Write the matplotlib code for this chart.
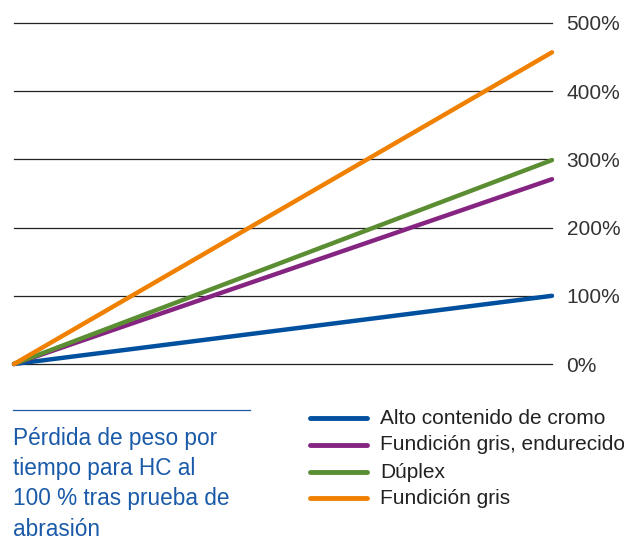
import matplotlib
matplotlib.use("Agg")
import matplotlib.pyplot as plt
from matplotlib.lines import Line2D

plt.rcParams['font.family'] = ['Liberation Sans', 'DejaVu Sans']

x_vals = [0, 1]
series_names = ["Alto contenido de cromo", "Fundición gris, endurecido", "Dúplex", "Fundición gris"]
series_values = [
    [0, 100],
    [0, 271],
    [0, 299],
    [0, 457],
]
series_colors = ["#0050a0", "#862481", "#5b8e32", "#f08000"]
y_ticks = [0, 100, 200, 300, 400, 500]
y_tick_labels = ["0%", "100%", "200%", "300%", "400%", "500%"]
note_lines = ["Pérdida de peso por", "tiempo para HC al", "100 % tras prueba de", "abrasión"]

W, H = 624, 541
fig = plt.figure(figsize=(W / 100, H / 100), dpi=100)
ax = fig.add_axes([14 / W, 1 - 364 / H, (552 - 14) / W, (364 - 23) / H])

for yv in y_ticks:
    ax.axhline(yv, color="#222222", lw=0.9, zorder=1, clip_on=False)

for vals, col in zip(series_values, series_colors):
    ax.plot(x_vals, vals, color=col, lw=3.2, solid_capstyle="round", zorder=3, clip_on=False)

ax.set_xlim(0, 1)
ax.set_ylim(0, 500)
ax.set_xticks([])
ax.yaxis.tick_right()
ax.set_yticks(y_ticks)
ax.set_yticklabels(y_tick_labels, fontsize=15, color="#333333")
ax.tick_params(axis="y", length=0, pad=10.5)
for s in ax.spines.values():
    s.set_visible(False)

# blue rule and note
fig.add_artist(Line2D([13 / W, 250 / W], [1 - 410 / H, 1 - 410 / H], color="#1a5aa8", lw=0.9))
note_y = [438, 468, 499, 529]
for line, ny in zip(note_lines, note_y):
    fig.text(13 / W, 1 - ny / H, line, fontsize=16.3, color="#1a5aa8", va="center", ha="left")

# legend
rows_y = [418, 445, 472, 498]
for name, col, ry in zip(series_names, series_colors, rows_y):
    fig.add_artist(Line2D([310 / W, 367 / W], [1 - ry / H, 1 - ry / H], color=col, lw=3.5,
                          solid_capstyle="round"))
    fig.text(380 / W, 1 - ry / H, name, fontsize=15, color="#222222", va="center", ha="left")

fig.savefig("out.png", dpi=100)
